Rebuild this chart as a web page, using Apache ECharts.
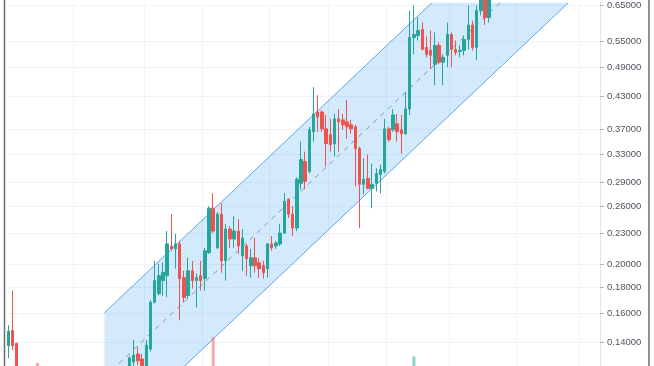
<!DOCTYPE html>
<html><head><meta charset="utf-8">
<script src="https://cdn.jsdelivr.net/npm/echarts@6/dist/echarts.min.js"></script>
<style>html,body{margin:0;padding:0;background:#fff;overflow:hidden;}#c{width:654px;height:386px;}</style>
</head><body><div id="c"></div>
<script>
// Daily candles (index 0..115), prices
const opens = [0.1382,0.1480,0.1397,0.1180,0.1135,0.1150,0.1100,0.1120,0.1070,0.1055,0.1080,0.1040,0.1000,0.1020,0.0985,0.0970,0.0990,0.0955,0.0965,0.0940,0.0975,0.0995,0.0970,0.1000,0.1035,0.1020,0.1065,0.1100,0.1080,0.1215,0.1282,0.1330,0.1300,0.1255,0.1360,0.1683,0.1751,0.1857,0.1899,0.2174,0.2145,0.2194,0.1882,0.1735,0.1942,0.1857,0.1899,0.1873,0.2107,0.2581,0.2155,0.2512,0.2032,0.2347,0.2244,0.2326,0.2078,0.2174,0.1987,0.2060,0.2014,0.1987,0.1960,0.2194,0.2174,0.2194,0.2305,0.2688,0.2512,0.2358,0.2889,0.3190,0.3050,0.3653,0.3997,0.3997,0.3702,0.3603,0.3460,0.3873,0.3856,0.3821,0.3770,0.3736,0.3383,0.2876,0.2955,0.2824,0.2889,0.3009,0.3050,0.3702,0.3686,0.3787,0.3686,0.3620,0.4052,0.5608,0.5660,0.5815,0.5361,0.5289,0.4965,0.5410,0.5010,0.5171,0.5685,0.5313,0.5265,0.5289,0.5558,0.5935,0.5361,0.6336,0.6750,0.6139];
const closes = [0.1475,0.1382,0.1180,0.1135,0.1150,0.1100,0.1120,0.1070,0.1055,0.1080,0.1040,0.1000,0.1020,0.0985,0.0970,0.0990,0.0955,0.0965,0.0940,0.0975,0.0995,0.0970,0.1000,0.1035,0.1020,0.1065,0.1100,0.1080,0.1175,0.1306,0.1324,0.1290,0.1250,0.1385,0.1681,0.1857,0.1899,0.1928,0.2194,0.2145,0.2194,0.1873,0.1719,0.1942,0.1857,0.1882,0.1857,0.2126,0.2581,0.2326,0.2512,0.2032,0.2347,0.2244,0.2326,0.2174,0.2254,0.2050,0.2060,0.1987,0.1960,0.1925,0.2194,0.2155,0.2204,0.2305,0.2663,0.2512,0.2358,0.2942,0.3219,0.2915,0.3686,0.3961,0.3908,0.3702,0.3460,0.3445,0.3873,0.3821,0.3770,0.3736,0.3702,0.3383,0.2876,0.2942,0.2824,0.2876,0.3022,0.3077,0.3702,0.3523,0.3944,0.3653,0.3620,0.4052,0.5608,0.5685,0.5789,0.5313,0.5194,0.5171,0.5410,0.5010,0.5124,0.5685,0.5313,0.5241,0.5289,0.5558,0.5935,0.5361,0.6336,0.6700,0.6139,0.6700];
const lows = [0.1306,0.1354,0.1150,0.1110,0.1100,0.1080,0.1065,0.1050,0.1020,0.1040,0.1010,0.0980,0.0985,0.0960,0.0940,0.0950,0.0930,0.0925,0.0915,0.0930,0.0960,0.0950,0.0955,0.0990,0.1000,0.1010,0.1050,0.1055,0.1070,0.1200,0.1245,0.1265,0.1230,0.1240,0.1345,0.1674,0.1735,0.1735,0.1722,0.2126,0.1960,0.1550,0.1681,0.1712,0.1791,0.1644,0.1775,0.1775,0.2097,0.2305,0.2145,0.1925,0.1857,0.2155,0.2155,0.2097,0.1942,0.1899,0.1882,0.1925,0.1882,0.1873,0.1882,0.2126,0.2145,0.2174,0.2295,0.2468,0.2274,0.2326,0.2812,0.2812,0.3022,0.3492,0.3653,0.3653,0.3119,0.3338,0.3263,0.3338,0.3686,0.3539,0.3620,0.2850,0.2358,0.2749,0.2812,0.2581,0.2786,0.2761,0.3022,0.3492,0.3653,0.3492,0.3308,0.3603,0.3944,0.5194,0.5533,0.5289,0.5124,0.4854,0.4516,0.4965,0.4516,0.4898,0.4898,0.5171,0.5124,0.5171,0.5313,0.5289,0.5055,0.6200,0.5935,0.6000];
const highs = [0.1516,0.1775,0.1397,0.1205,0.1180,0.1170,0.1145,0.1240,0.1090,0.1100,0.1090,0.1050,0.1045,0.1030,0.1000,0.1010,0.1000,0.0985,0.0980,0.0990,0.1020,0.1010,0.1025,0.1060,0.1055,0.1090,0.1125,0.1120,0.1205,0.1318,0.1417,0.1375,0.1330,0.1417,0.1700,0.2032,0.2005,0.2017,0.2326,0.2512,0.2295,0.2224,0.1942,0.2060,0.2032,0.1916,0.2032,0.2155,0.2604,0.2761,0.2535,0.2640,0.2401,0.2379,0.2489,0.2456,0.2347,0.2194,0.2145,0.2254,0.2060,0.2032,0.2204,0.2274,0.2224,0.2401,0.2761,0.2700,0.2604,0.2968,0.3492,0.3338,0.3736,0.4475,0.4316,0.4030,0.3944,0.3873,0.3961,0.4052,0.3961,0.4220,0.3856,0.3770,0.3414,0.3234,0.3293,0.3162,0.3092,0.3148,0.3873,0.3736,0.4052,0.3961,0.3944,0.4375,0.6336,0.6481,0.6139,0.6002,0.5633,0.5789,0.5737,0.5483,0.5194,0.6002,0.5737,0.5533,0.5410,0.5660,0.6481,0.6055,0.6481,0.6900,0.7000,0.6900];
// volume: only the bars that rise into view are known
const volumeByIndex = {7: 24, 49: 51, 97: 31};
const priceTicks = [0.12,0.14,0.16,0.18,0.20,0.23,0.26,0.29,0.33,0.37,0.43,0.49,0.55,0.65];
// regression channel
const channelStartIndex = 23, channelEndIndex = 141;
const channelUpper = [0.1605, 1.342];
const channelLower = [0.0892, 0.746];
const channelMid = [0.1197, 1.0006];
const timeGridIndices = [16, 33, 47, 63, 77, 91, 106, 122, 137];
const TOTAL_SLOTS = 142;

const categories = [];
for (let i = 0; i < TOTAL_SLOTS; i++) categories.push(String(i));
const candleData = opens.map((o, i) => [o, closes[i], lows[i], highs[i]]);
const volumeData = opens.map((o, i) => {
  const v = volumeByIndex[i];
  if (v == null) return null;
  const up = closes[i] >= o;
  return {value: v, itemStyle: {color: up ? 'rgba(38,166,154,0.5)' : 'rgba(239,83,80,0.5)'}};
});

const chart = echarts.init(document.getElementById('c'), null, {renderer: 'canvas'});
chart.setOption({
  animation: false,
  backgroundColor: '#ffffff',
  grid: {left: 6.2, right: 54, top: 0, bottom: 0, containLabel: false},
  xAxis: {
    type: 'category', data: categories, boundaryGap: true,
    axisLine: {show: false}, axisTick: {show: false}, axisLabel: {show: false},
    splitLine: {show: true, interval: (idx) => timeGridIndices.indexOf(idx) >= 0, lineStyle: {color: '#f0f3fa', width: 1}}
  },
  yAxis: [{
    type: 'log', logBase: 10, min: 0.115, max: 0.657, position: 'right',
    axisLine: {show: true, lineStyle: {color: '#e0e3eb'}},
    axisTick: {show: true, length: 4, customValues: priceTicks, lineStyle: {color: '#b2b5be'}},
    axisLabel: {customValues: priceTicks, formatter: v => Number(v).toFixed(5), color: '#50535e', fontSize: 9.5, fontFamily: 'Liberation Sans', margin: 7},
    splitLine: {show: true, lineStyle: {color: '#f0f3fa'}}
  }, {
    type: 'value', min: 0, max: 400, show: false
  }],
  series: [{
    type: 'custom', z: 1, clip: true,
    data: [[channelStartIndex, channelUpper[0], channelLower[0], channelEndIndex, channelUpper[1], channelLower[1], channelMid[0], channelMid[1]]],
    renderItem: (params, api) => {
      const x0 = api.value(0), x1 = api.value(3);
      const u0 = api.coord([x0, api.value(1)]), l0 = api.coord([x0, api.value(2)]);
      const u1 = api.coord([x1, api.value(4)]), l1 = api.coord([x1, api.value(5)]);
      const m0 = api.coord([x0, api.value(6)]), m1 = api.coord([x1, api.value(7)]);
      return {type: 'group', children: [
        {type: 'polygon', shape: {points: [u0, u1, l1, l0]}, style: {fill: 'rgba(33,150,243,0.2)'}},
        {type: 'line', shape: {x1: u0[0], y1: u0[1], x2: u1[0], y2: u1[1]}, style: {stroke: 'rgba(41,130,220,0.7)', lineWidth: 1}},
        {type: 'line', shape: {x1: l0[0], y1: l0[1], x2: l1[0], y2: l1[1]}, style: {stroke: 'rgba(41,130,220,0.7)', lineWidth: 1}},
        {type: 'line', shape: {x1: m0[0], y1: m0[1], x2: m1[0], y2: m1[1]}, style: {stroke: 'rgba(90,120,150,0.7)', lineWidth: 1, lineDash: [5, 5]}}
      ]};
    }
  }, {
    type: 'bar', yAxisIndex: 1, z: 2, barWidth: 3, data: volumeData
  }, {
    type: 'candlestick', z: 3, barWidth: 3, data: candleData,
    itemStyle: {color: '#26a69a', color0: '#ef5350', borderColor: '#26a69a', borderColor0: '#ef5350', borderWidth: 1}
  }],
  graphic: [
    {type: 'line', shape: {x1: 4.5, y1: 0, x2: 4.5, y2: 386}, style: {stroke: '#6b6b6b', lineWidth: 1.5}, z: 100},
    {type: 'line', shape: {x1: 649, y1: 0, x2: 649, y2: 386}, style: {stroke: '#6b6b6b', lineWidth: 1.5}, z: 100}
  ]
});
</script></body></html>
